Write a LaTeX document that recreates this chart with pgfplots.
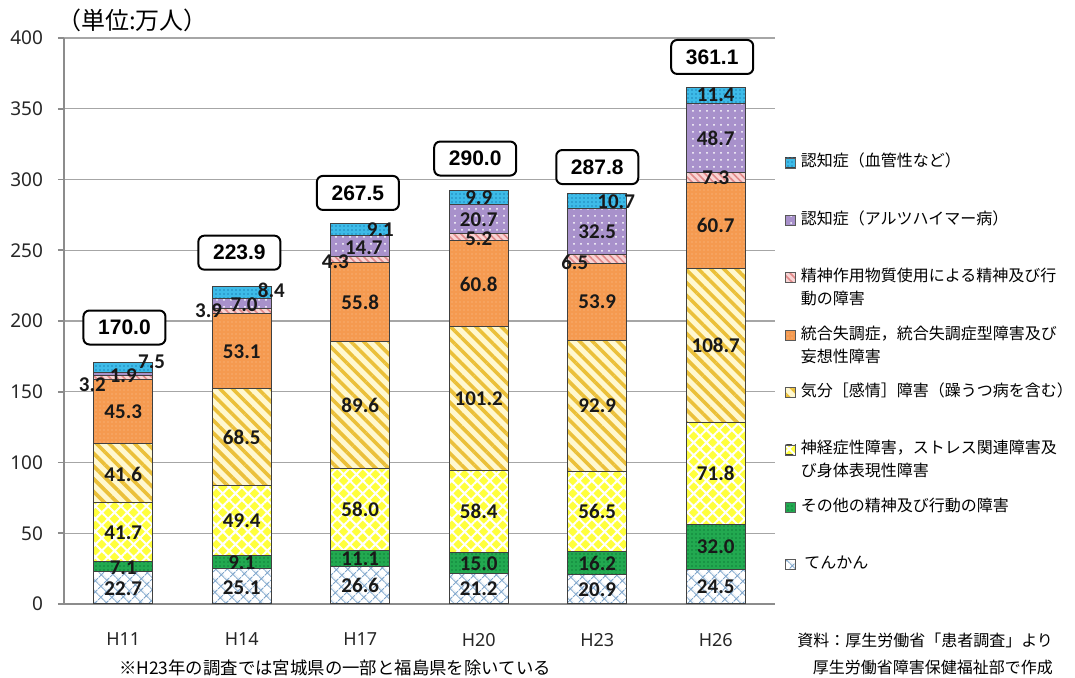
\documentclass[border=0pt]{standalone}
\usepackage{pgfplots}
\pgfplotsset{compat=1.18}
\usepackage{pgfplotstable}
\usetikzlibrary{patterns,patterns.meta}
\usepackage{fontspec}
\setmainfont{Noto Sans CJK JP}
\newfontfamily\numfont{Carlito}
\newfontfamily\tickfont{Noto Sans}
\newfontfamily\totfont{Liberation Sans}

\definecolor{barline}{HTML}{404040}
\definecolor{epiline}{HTML}{7FA6CC}
\definecolor{othfill}{HTML}{22A950}
\definecolor{othdot}{HTML}{11803A}
\definecolor{neufill}{HTML}{FFFF3C}
\definecolor{moofill}{HTML}{FFF8D0}
\definecolor{mooline}{HTML}{EBC03A}
\definecolor{schfill}{HTML}{F59A50}
\definecolor{schdot}{HTML}{FBC393}
\definecolor{subfill}{HTML}{F8D4D4}
\definecolor{subline}{HTML}{E08888}
\definecolor{alzfill}{HTML}{A891CB}
\definecolor{vasfill}{HTML}{3DBBE8}
\definecolor{vasdot}{HTML}{1F86B8}
\definecolor{gridc}{HTML}{A6A6A6}
\definecolor{axisc}{HTML}{8C8C8C}

\pgfplotstableread{
x epi oth neu moo sch sub alz vas
0 22.7 7.1 41.7 41.6 45.3 3.2 1.9 7.5
1 25.1 9.1 49.4 68.5 53.1 3.9 7.0 8.4
2 26.6 11.1 58.0 89.6 55.8 4.3 14.7 9.1
3 21.2 15.0 58.4 101.2 60.8 5.2 20.7 9.9
4 20.9 16.2 56.5 92.9 53.9 6.5 32.5 10.7
5 24.5 32.0 71.8 108.7 60.7 7.3 48.7 11.4
}\data

\pgfplotstableread{
x y lab
0 10.8 22.7
0 25.8 7.1
0 50.65 41.7
0 91.9 41.6
0 135.75 45.3
-0.26 154.8 3.2
0 161.3 1.9
0.24 171 7.5
1 11.5 25.1
1 29.0 9.1
1 58.9 49.4
1 117.85 68.5
1 178.65 53.1
0.72 207 3.9
1.02 211.3 7.0
1.25 222 8.4
2 12.8 26.6
2 31.7 11.1
2 66.7 58.0
2 140.5 89.6
2 213.2 55.8
1.79 242.2 4.3
2.03 251.6 14.7
2.17 264.7 9.1
3 10.6 21.2
3 28.7 15.0
3 65.4 58.4
3 145.2 101.2
3 226.2 60.8
3 258.5 5.2
3 271.6 20.7
3 286.8 9.9
4 10.45 20.9
4 29.0 16.2
4 65.35 56.5
4 140.05 92.9
4 213.45 53.9
3.81 241.7 6.5
4 262.8 32.5
4.16 284 10.7
5 12.25 24.5
5 40.5 32.0
5 92.4 71.8
5 182.65 108.7
5 267.35 60.7
5 301.0 7.3
5 329.3 48.7
5 360.0 11.4
}\labels

\pgfplotstableread{
x y lab
0.01 195.4 170.0
0.98 248.3 223.9
1.98 290.5 267.5
2.97 314.8 290.0
4.0 308.8 287.8
4.97 386.6 361.1
}\totals

\newcommand\leg[2]{\parbox[t]{150pt}{\strut#1\\\strut#2}}

\begin{document}
\begin{tikzpicture}
\path[use as bounding box] (-32pt,-37pt) rectangle (505.5pt,302pt);
\begin{axis}[
  at={(0pt,0pt)}, anchor=south west,
  scale only axis, width=355.5pt, height=283pt,
  ybar stacked, bar width=29.5pt,
  xmin=-0.5, xmax=5.5, ymin=0, ymax=400,
  xtick={0,...,5}, xticklabels={H11,H14,H17,H20,H23,H26},
  ytick={0,50,...,400},
  axis x line*=bottom, axis y line*=left,
  axis line style={draw=axisc, line width=0.8pt, -},
  ymajorgrids, grid style={gridc, line width=0.6pt},
  x tick style={draw=none},
  y tick style={draw=axisc, line width=0.8pt},
  tick align=outside, major tick length=3pt,
  /pgf/number format/assume math mode=true,
  yticklabel style={font=\tickfont\fontsize{9.5}{11}\selectfont, text=black!85, xshift=-4pt},
  xticklabel style={font=\tickfont\fontsize{9}{11}\selectfont, text=black!85, yshift=-8pt},
  legend style={at={(1.014,0.8004)}, anchor=north west, draw=none, fill=none,
    inner sep=0pt, outer sep=0pt, row sep=5.7pt, column sep=2.5pt,
    nodes={inner sep=0pt, text height=8pt, text depth=15pt, font=\fontsize{8}{11.5}\selectfont}},
  legend cell align=left,
  reverse legend,
  legend image code/.code={\draw[#1, draw=black!65, line width=0.4pt] (0pt,3pt) rectangle (5pt,8pt);},
]
\addplot[draw=barline, line width=0.5pt, preaction={fill=white}, pattern={Hatch[angle=45,distance=4pt,line width=0.5pt]}, pattern color=epiline]
  table[x=x,y=epi]{\data};
\addlegendentry{\leg{\ てんかん}{}}
\addplot[draw=barline, line width=0.5pt, preaction={fill=othfill}, pattern={Dots[radius=0.4pt,distance=2pt]}, pattern color=othdot]
  table[x=x,y=oth]{\data};
\addlegendentry{\leg{その他の精神及び行動の障害}{}}
\addplot[draw=barline, line width=0.5pt, preaction={fill=neufill}, pattern={Hatch[angle=45,distance=4.5pt,line width=1pt]}, pattern color=white]
  table[x=x,y=neu]{\data};
\addlegendentry{\leg{神経症性障害，ストレス関連障害及}{び身体表現性障害}}
\addplot[draw=barline, line width=0.5pt, preaction={fill=moofill}, pattern={Lines[angle=-45,distance=4.5pt,line width=1.8pt]}, pattern color=mooline]
  table[x=x,y=moo]{\data};
\addlegendentry{\leg{気分［感情］障害（躁うつ病を含む）}{}}
\addplot[draw=barline, line width=0.5pt, preaction={fill=schfill}, pattern={Dots[radius=0.35pt,distance=2pt]}, pattern color=schdot]
  table[x=x,y=sch]{\data};
\addlegendentry{\leg{統合失調症，統合失調症型障害及び}{妄想性障害}}
\addplot[draw=barline, line width=0.5pt, preaction={fill=subfill}, pattern={Lines[angle=-45,distance=2.5pt,line width=0.8pt]}, pattern color=subline]
  table[x=x,y=sub]{\data};
\addlegendentry{\leg{精神作用物質使用による精神及び行}{動の障害}}
\addplot[draw=barline, line width=0.5pt, preaction={fill=alzfill}, pattern={Dots[radius=0.5pt,distance=3.5pt]}, pattern color=white]
  table[x=x,y=alz]{\data};
\addlegendentry{\leg{認知症（アルツハイマー病）}{}}
\addplot[draw=barline, line width=0.5pt, preaction={fill=vasfill}, pattern={Dots[radius=0.45pt,distance=2pt]}, pattern color=vasdot]
  table[x=x,y=vas]{\data};
\addlegendentry{\leg{認知症（血管性など）}{}}
\end{axis}

\begin{axis}[
  at={(0pt,0pt)}, anchor=south west,
  scale only axis, width=355.5pt, height=283pt,
  xmin=-0.5, xmax=5.5, ymin=0, ymax=400, hide axis, clip=false]
\addplot[draw=none, mark=none, nodes near coords, point meta=explicit symbolic,
  every node near coord/.append style={anchor=center, inner sep=0pt, text=black!90,
    font=\numfont\bfseries\fontsize{10.5}{12}\selectfont}]
  table[x=x,y=y,meta=lab]{\labels};
\addplot[draw=none, mark=none, nodes near coords, point meta=explicit symbolic,
  every node near coord/.append style={anchor=center, draw=black, line width=1pt,
    rounded corners=3pt, fill=white, minimum width=41pt, minimum height=17pt, inner sep=2pt,
    font=\totfont\bfseries\fontsize{10.5}{12}\selectfont}]
  table[x=x,y=y,meta=lab]{\totals};
\end{axis}

\node[anchor=west, font=\fontsize{12}{14}\selectfont] at (-7pt,292pt) {（単位:万人）};
\node[font=\fontsize{8.7}{10}\selectfont] at (135.5pt,-32pt) {※H23年の調査では宮城県の一部と福島県を除いている};
\node[anchor=east, font=\fontsize{8}{10}\selectfont] at (498pt,-18pt) {資料：厚生労働省「患者調査」より};
\node[anchor=east, font=\fontsize{8}{10}\selectfont] at (498pt,-31.5pt) {厚生労働省障害保健福祉部で作成};
\end{tikzpicture}
\end{document}
